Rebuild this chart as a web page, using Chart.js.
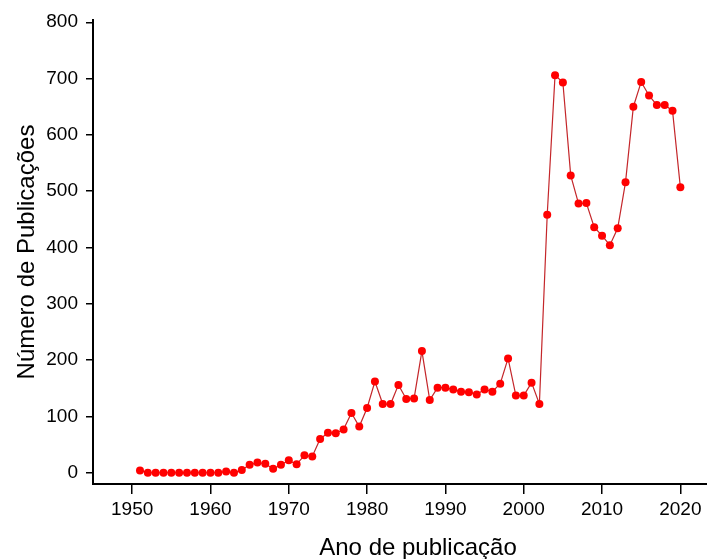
<!DOCTYPE html>
<html>
<head>
<meta charset="utf-8">
<title>Número de Publicações por ano</title>
<script src="https://cdn.jsdelivr.net/npm/chart.js@4/dist/chart.umd.min.js"></script>
<style>
  html, body { margin: 0; padding: 0; background: #fff; overflow: hidden; }
  #wrap { width: 707px; height: 559px; overflow: hidden; }
</style>
</head>
<body>
<div id="wrap"><canvas id="chart" width="747" height="559"></canvas></div>
<script>
// anos e numero de publicacoes
var anos = [
  1951, 1952, 1953, 1954, 1955, 1956, 1957, 1958, 1959, 1960,
  1961, 1962, 1963, 1964, 1965, 1966, 1967, 1968, 1969, 1970,
  1971, 1972, 1973, 1974, 1975, 1976, 1977, 1978, 1979, 1980,
  1981, 1982, 1983, 1984, 1985, 1986, 1987, 1988, 1989, 1990,
  1991, 1992, 1993, 1994, 1995, 1996, 1997, 1998, 1999, 2000,
  2001, 2002, 2003, 2004, 2005, 2006, 2007, 2008, 2009, 2010,
  2011, 2012, 2013, 2014, 2015, 2016, 2017, 2018, 2019, 2020
];
var publicacoes = [
  4, 0, 0, 0, 0, 0, 0, 0, 0, 0,
  0, 2, 0, 5, 14, 18, 16, 7, 14, 22,
  15, 31, 29, 60, 71, 70, 77, 106, 82, 115,
  162, 122, 122, 156, 131, 132, 216, 129, 151, 151,
  148, 144, 143, 139, 148, 144, 158, 203, 137, 137,
  160, 122, 458, 706, 693, 528, 478, 479, 436, 421,
  404, 434, 516, 650, 694, 670, 653, 653, 643, 507
];
var ticksX = [1950, 1960, 1970, 1980, 1990, 2000, 2010, 2020];
var ticksY = [0, 100, 200, 300, 400, 500, 600, 700, 800];

var fonte = "'Liberation Sans', Arial, Helvetica, sans-serif";

var pontos = anos.map(function (a, i) { return {x: a, y: publicacoes[i]}; });

new Chart(document.getElementById('chart'), {
  type: 'line',
  data: {
    datasets: [{
      data: pontos,
      borderColor: '#c4262a',
      borderWidth: 1.2,
      pointBackgroundColor: '#ff0000',
      pointBorderColor: '#ff0000',
      pointBorderWidth: 0,
      pointRadius: 4,
      tension: 0,
      clip: false
    }]
  },
  options: {
    responsive: false,
    animation: false,
    events: [],
    layout: { padding: { top: 20, right: 4, left: 0, bottom: 0 } },
    plugins: { legend: { display: false }, tooltip: { enabled: false } },
    scales: {
      x: {
        type: 'linear',
        min: 1945,
        max: 2028,
        afterBuildTicks: function (s) { s.ticks = ticksX.map(function (v) { return {value: v}; }); },
        afterFit: function (s) { s.height = 75; },
        border: { display: true, color: '#000', width: 2 },
        grid: { drawOnChartArea: false, drawTicks: true, tickLength: 10, color: '#000', lineWidth: 1.5 },
        ticks: { color: '#000', padding: 4, maxRotation: 0, autoSkip: false,
                 font: { family: fonte, size: 19 }, callback: function (v) { return String(v); } },
        title: { display: true, text: 'Ano de publicação', color: '#000',
                 font: { family: fonte, size: 24 }, padding: { top: 0, bottom: -4 } }
      },
      y: {
        min: -20,
        max: 804,
        afterBuildTicks: function (s) { s.ticks = ticksY.map(function (v) { return {value: v}; }); },
        afterFit: function (s) { s.width = 93; },
        border: { display: true, color: '#000', width: 2 },
        grid: { drawOnChartArea: false, drawTicks: true, tickLength: 7, color: '#000', lineWidth: 1.5 },
        ticks: { color: '#000', padding: 8, autoSkip: false,
                 font: { family: fonte, size: 19 }, callback: function (v) { return String(v); } },
        title: { display: true, text: 'Número de Publicações', color: '#000',
                 font: { family: fonte, size: 24 }, padding: { top: 13, bottom: 0 } }
      }
    }
  }
});
</script>
</body>
</html>
